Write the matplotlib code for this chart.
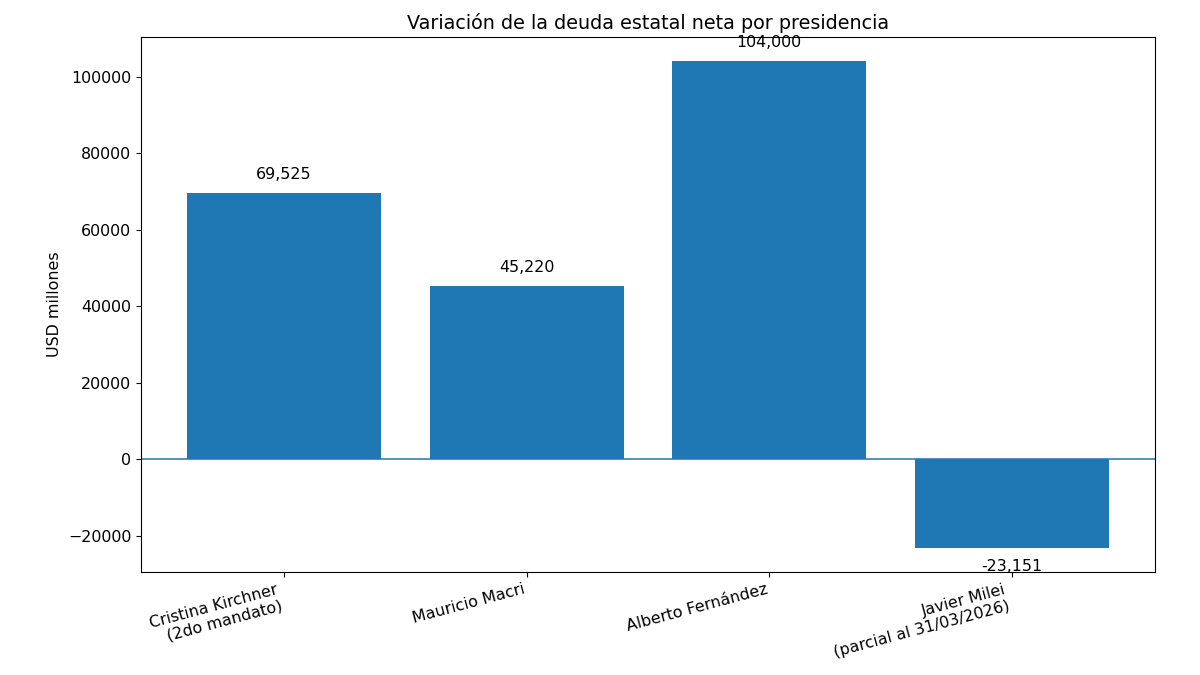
import matplotlib
matplotlib.use("Agg")
import matplotlib.pyplot as plt

presidencias = ["Cristina Kirchner\n(2do mandato)", "Mauricio Macri",
                "Alberto Fernández", "Javier Milei\n(parcial al 31/03/2026)"]
variacion = [69525, 45220, 104000, -23151]

fig, ax = plt.subplots(figsize=(12, 6.75), dpi=100)
x = list(range(len(presidencias)))
ax.bar(x, variacion, color="C0")
ax.axhline(0, color="C0", linewidth=1.1)

fs = 11.4
for xi, v in zip(x, variacion):
    if v >= 0:
        ax.text(xi, v + 3000, f"{v:,}", ha="center", va="bottom", fontsize=fs)
    else:
        ax.text(xi, v - 3000, f"{v:,}", ha="center", va="top", fontsize=fs)

ax.set_xticks(x)
ax.set_xticklabels(presidencias, rotation=15, ha="right", fontsize=fs)
ax.tick_params(axis="y", labelsize=fs)
ax.set_ylabel("USD millones", fontsize=fs)
ax.set_title("Variación de la deuda estatal neta por presidencia", fontsize=13.75)
fig.subplots_adjust(left=0.1175, right=0.9625, top=0.945, bottom=0.1526)
fig.savefig("out.png")
